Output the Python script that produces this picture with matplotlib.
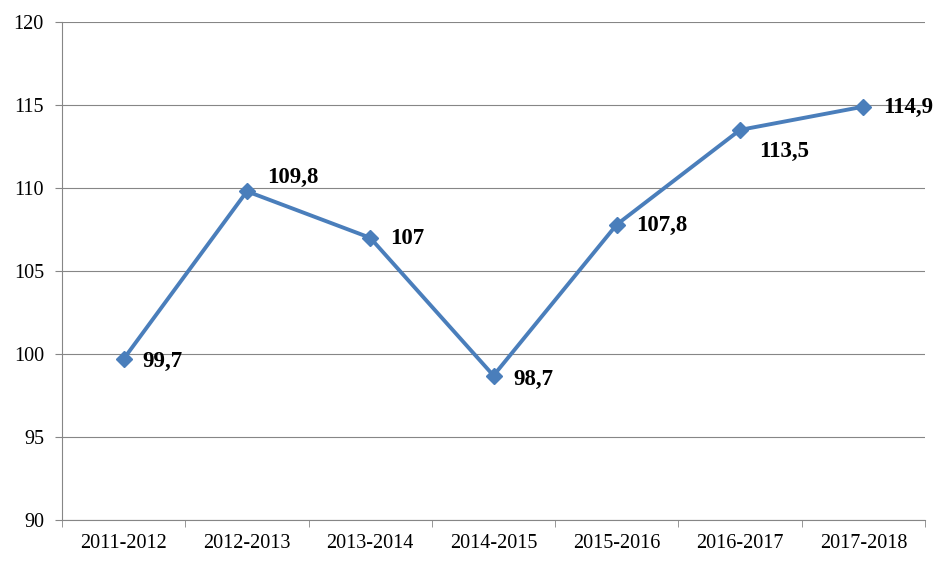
import matplotlib.pyplot as plt

plt.rcParams['font.family'] = ['Liberation Serif', 'DejaVu Serif']

years = ['2011-2012', '2012-2013', '2013-2014', '2014-2015',
         '2015-2016', '2016-2017', '2017-2018']
values = [99.7, 109.8, 107, 98.7, 107.8, 113.5, 114.9]
labels = ['99,7', '109,8', '107', '98,7', '107,8', '113,5', '114,9']
# label offsets in pixels (dx, dy), screen direction
offsets = [(19, -2), (20, 14), (20, -1), (20, -4), (19, -1), (19, -22), (20, -1)]

fig = plt.figure(figsize=(9.48, 5.69), dpi=100)
ax = fig.add_axes([62/948, 1 - 520/569, 863/948, 498/569])

x = range(len(years))
ax.plot(x, values, color='#4A7EBB', linewidth=2.8, marker='D', markersize=8.5,
        zorder=3)

for i, (v, lab) in enumerate(zip(values, labels)):
    dx, dy = offsets[i]
    ax.annotate(lab, (i, v), xytext=(dx * 0.72, dy * 0.72), textcoords='offset points',
                ha='left', va='center', fontsize=16.5, fontweight='bold')

ax.set_xlim(-0.5, len(years) - 0.5)
ax.set_ylim(90, 120)
ax.set_yticks(range(90, 121, 5))
ax.set_xticks(list(x))
ax.set_xticklabels(years)
ax.set_xticks([i - 0.5 for i in range(len(years) + 1)], minor=True)
ax.tick_params(axis='x', which='major', length=0, labelsize=14.5, pad=10)
ax.tick_params(axis='x', which='minor', length=5, color='#868686')
ax.tick_params(axis='y', length=5, color='#868686', labelsize=14.5, pad=8)

ax.grid(axis='y', color='#868686', linewidth=0.8)
ax.set_axisbelow(True)
for s in ['top', 'right']:
    ax.spines[s].set_visible(False)
for s in ['left', 'bottom']:
    ax.spines[s].set_color('#868686')

fig.savefig('out.png', dpi=100)
